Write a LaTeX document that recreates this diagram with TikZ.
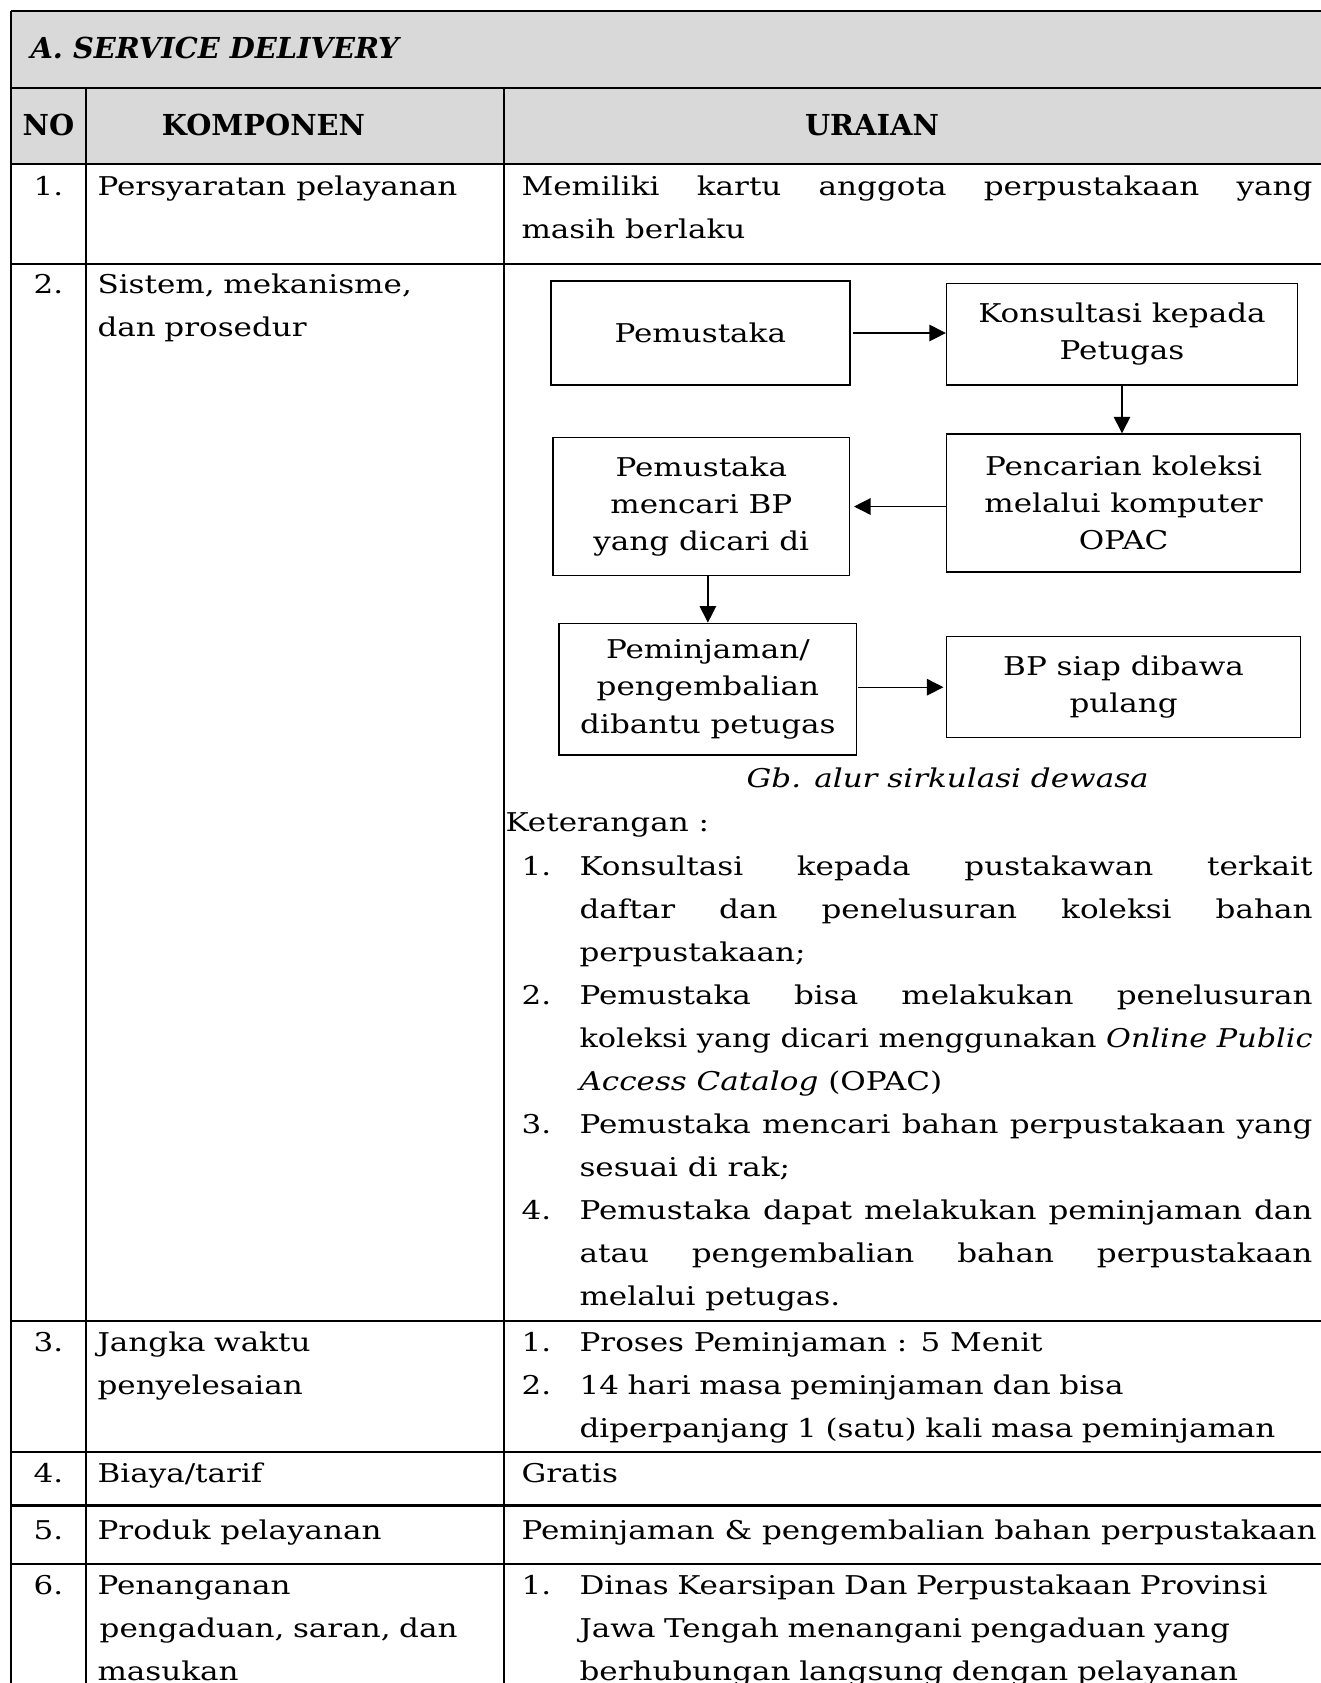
\documentclass[tikz,border=0pt]{standalone}
\usepackage{graphicx}
\usepackage{fontspec}
\setmainfont{DejaVu Serif}[FakeStretch=1.2]
\newfontfamily\headfont{DejaVu Serif}
\usetikzlibrary{arrows.meta}
\definecolor{headgray}{HTML}{D9D9D9}

\begin{document}
\hyphenpenalty=10000 \exhyphenpenalty=10000
\begin{tikzpicture}[x=0.3636pt,y=-0.3636pt,
  rule/.style={line width=0.8pt},
  body/.style={font=\fontsize{9.4}{15.635}\selectfont, inner sep=0pt, anchor=base west},
  num/.style={font=\fontsize{9.4}{15.635}\selectfont, inner sep=0pt, anchor=base},
  para/.style={body, text width=#1*0.3636pt, align=left},
  jpara/.style={body, text width=#1*0.3636pt, align=justify},
  headtxt/.style={font=\headfont\bfseries\fontsize{10.5}{12}\selectfont, inner sep=0pt, anchor=base},
  stepbox/.style={draw, line width=0.55pt, inner sep=0pt, align=center,
    font=\fontsize{9.4}{13.6}\selectfont},
  arr/.style={line width=0.5pt, -{Triangle[length=6pt,width=6pt]}},
]
\useasboundingbox (0,0) rectangle (1321,1683);

% header band
\fill[headgray] (11,11) rectangle (1340,164);

% table rules
\draw[rule] (11,11) -- (1340,11);
\draw[rule] (11,88) -- (1340,88);
\draw[rule] (11,164) -- (1340,164);
\draw[rule] (11,264) -- (1340,264);
\draw[rule] (11,1321) -- (1340,1321);
\draw[rule] (11,1452) -- (1340,1452);
\draw[rule] (11,1505.5) -- (1340,1505.5);
\draw[rule] (11,1564) -- (1340,1564);
\draw[rule] (11,11) -- (11,1700);
\draw[rule] (86,88) -- (86,1700);
\draw[rule] (504,88) -- (504,1700);

% header texts
\node[headtxt, anchor=base west, font=\headfont\bfseries\itshape\fontsize{10.5}{12}\selectfont] (sec) at (30,58.3) {A. SERVICE DELIVERY};
\node[headtxt] (hno) at (48.4,135) {NO};
\node[headtxt] (hkomp) at (263.5,135) {KOMPONEN};
\node[headtxt] (hur) at (872,135) {URAIAN};

% row numbers
\node[num] (n1) at (48.5,195) {1.};
\node[num] (n2) at (48.5,293) {2.};
\node[num] (n3) at (48.5,1351.7) {3.};
\node[num] (n4) at (48.5,1482.7) {4.};
\node[num] (n5) at (48.5,1539) {5.};
\node[num] (n6) at (48.5,1594) {6.};

% component column
\node[body] (k1) at (97,195) {Persyaratan pelayanan};
\node[para=403] (k2) at (97,293) {Sistem, mekanisme,\\dan prosedur};
\node[para=403] (k3) at (97,1351.7) {Jangka waktu\\penyelesaian};
\node[body] (k4) at (97,1482.7) {Biaya/tarif};
\node[body] (k5) at (97,1539) {Produk pelayanan};
\node[para=403] (k6) at (97,1594) {Penanganan\\\hspace*{0.8pt}pengaduan, saran, dan\\masukan};

% description column, row 1
\node[jpara=791] (u1) at (521,195) {Memiliki kartu anggota perpustakaan yang\linebreak masih berlaku};

% flow of the circulation service
\node[stepbox, minimum width=108.7pt, minimum height=37.8pt] (b1) at (700.3,333) {Pemustaka};
\node[stepbox, minimum width=127.55pt, minimum height=36.98pt] (b2) at (1122,334.2) {Konsultasi kepada\\Petugas};
\node[stepbox, minimum width=128.68pt, minimum height=50.07pt] (b3) at (1123.6,502.9) {Pencarian koleksi\\melalui komputer\\OPAC};
\node[stepbox, minimum width=107.92pt, minimum height=50.03pt] (b4) at (701.3,506.5) {Pemustaka\\mencari BP\\yang dicari di};
\node[stepbox, minimum width=108.1pt, minimum height=47.89pt] (b5) at (707.9,689.2) {Peminjaman/\\pengembalian\\dibantu petugas};
\node[stepbox, minimum width=128.68pt, minimum height=36.72pt] (b6) at (1123.6,687.2) {BP siap dibawa\\pulang};

\draw[arr] ([xshift=1pt]b1.east) -- (b1.east -| b2.west);
\draw[arr] (b2.south) -- (b2.south |- b3.north);
\draw[arr] (b4.east -| b3.west) -- ([xshift=1.3pt]b4.east);
\draw[arr] (b5.north |- b4.south) -- (b5.north);
\draw[arr] ([xshift=0.3pt]b6.west -| b5.east) -- ([xshift=-0.9pt]b6.west);

\node[num, font=\itshape\fontsize{9.4}{15.635}\selectfont] (cap) at (947.7,787) {Gb. alur sirkulasi dewasa};

% notes
\node[body] (ket) at (505,831.7) {Keterangan :};
\node[body] (m1) at (521,875) {1.};
\node[body] (m2) at (521,1004) {2.};
\node[body] (m3) at (521,1133) {3.};
\node[body] (m4) at (521,1219) {4.};
\node[jpara=733] (t1) at (579,875) {Konsultasi kepada pustakawan terkait\linebreak daftar dan penelusuran koleksi bahan\linebreak perpustakaan;};
\node[jpara=733] (t2) at (579,1004) {Pemustaka bisa melakukan penelusuran\linebreak \resizebox{\linewidth}{\height}{koleksi yang dicari menggunakan \textit{Online Public}}\linebreak \textit{Access Catalog} (OPAC)};
\node[jpara=733] (t3) at (579,1133) {Pemustaka mencari bahan perpustakaan yang\linebreak sesuai di rak;};
\node[jpara=733] (t4) at (579,1219) {Pemustaka dapat melakukan peminjaman dan\linebreak atau pengembalian bahan perpustakaan\linebreak melalui petugas.};

% row 3
\node[body] (w1) at (521,1351.7) {1.};
\node[body] (w2) at (521,1394.7) {2.};
\node[body] (wt1) at (579,1351.7) {Proses Peminjaman : 5 Menit};
\node[para=740] (wt2) at (579,1394.7) {14 hari masa peminjaman dan bisa\\diperpanjang 1 (satu) kali masa peminjaman};

% rows 4 and 5
\node[body] (g4) at (521,1482.7) {Gratis};
\node[body] (g5) at (521,1539) {Peminjaman \& pengembalian bahan perpustakaan};

% row 6
\node[body] (p1) at (521,1594) {1.};
\node[para=740] (pt1) at (579,1594) {Dinas Kearsipan Dan Perpustakaan Provinsi\\Jawa Tengah menangani pengaduan yang\\berhubungan langsung dengan pelayanan};
\end{tikzpicture}
\end{document}
